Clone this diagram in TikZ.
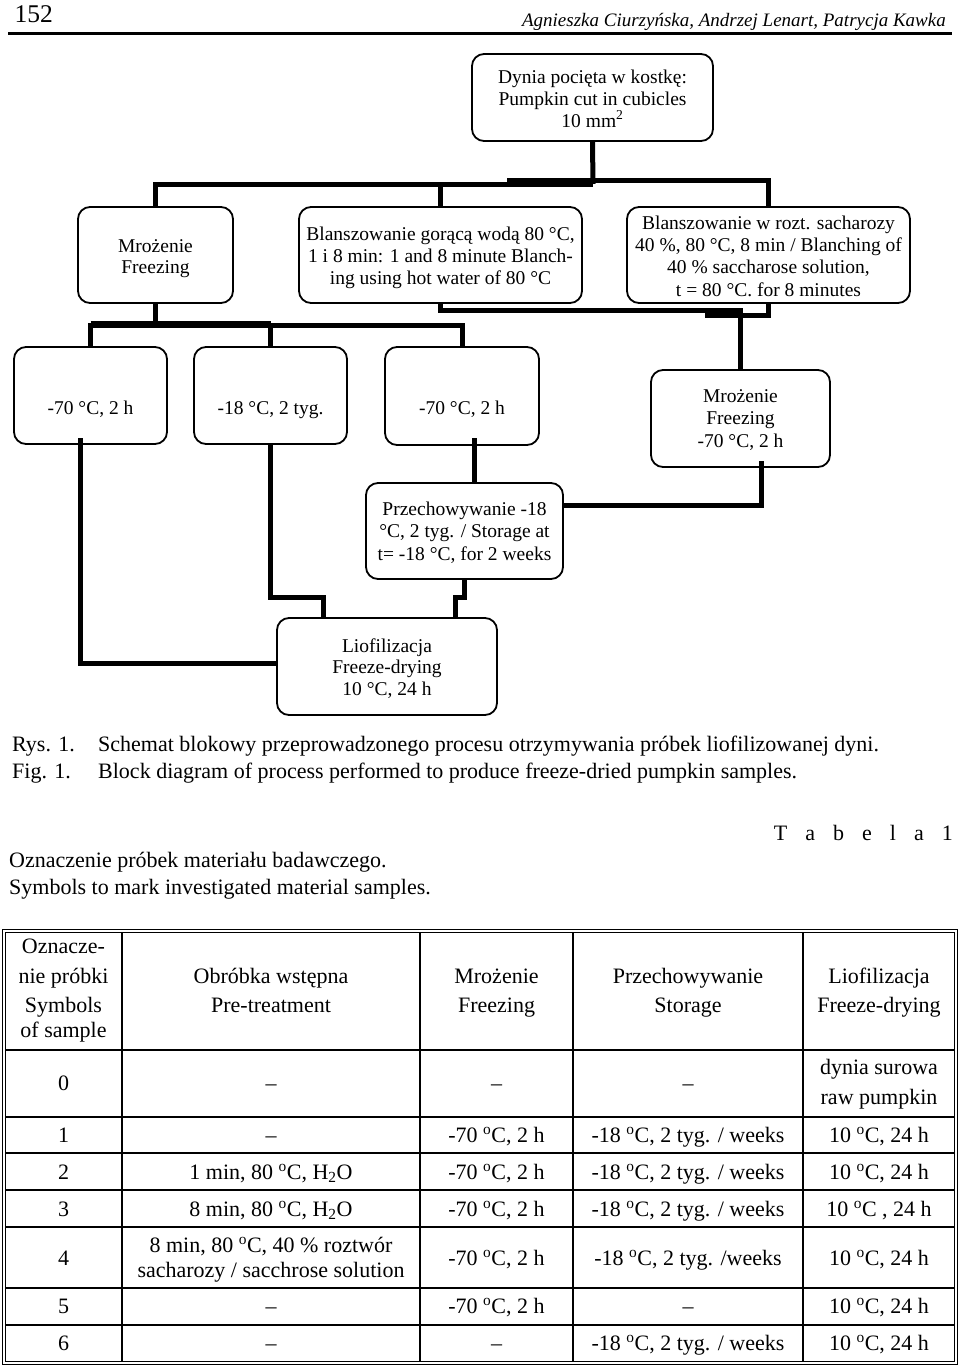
\documentclass[tikz,border=0pt]{standalone}
\usepackage{fontspec}
\setmainfont{Liberation Serif}
\usetikzlibrary{calc}
\begin{document}
\begin{tikzpicture}[x=1pt,y=-1pt,
  box/.style={draw, line width=1.8pt, rounded corners=12pt, inner sep=0pt},
  conn/.style={line width=5pt, line join=miter},
  dt/.style={anchor=base, inner sep=0pt, font=\fontsize{19.5}{22}\selectfont},
  captxt/.style={anchor=base west, inner sep=0pt, font=\fontsize{22}{26}\selectfont},
  tc/.style={anchor=base, inner sep=0pt, font=\fontsize{22}{26}\selectfont},
  tl/.style={line width=1.3pt}]
\fill[white] (0,0) rectangle (960,1365);
\useasboundingbox (0,0) rectangle (960,1365);

% ---------- page header ----------
\node[anchor=base west, inner sep=0pt, font=\fontsize{25.5}{28}\selectfont] (pg) at (14.5,22.7) {152};
\node[anchor=base east, inner sep=0pt, font=\fontsize{19}{22}\selectfont\itshape] (au) at (946,26) {Agnieszka Ciurzyńska, Andrzej Lenart, Patrycja Kawka};
\draw[line width=3.3pt] (8,33.4) -- (952,33.4);

% ---------- boxes ----------
\node[box, minimum width=241pt, minimum height=87pt] (top) at (592.5,97.5) {};
\node[box, minimum width=155pt, minimum height=96pt] (mro) at (155.5,255) {};
\node[box, minimum width=283pt, minimum height=96pt] (mid) at (440.5,255) {};
\node[box, minimum width=283pt, minimum height=96pt] (rbl) at (768.5,255) {};
\node[box, minimum width=153pt, minimum height=97pt] (bA) at (90.5,395.5) {};
\node[box, minimum width=153pt, minimum height=97pt] (bB) at (270.5,395.5) {};
\node[box, minimum width=154pt, minimum height=98pt] (bC) at (462,396) {};
\node[box, minimum width=179pt, minimum height=97pt] (bD) at (740.5,418.5) {};
\node[box, minimum width=197pt, minimum height=96pt] (prz) at (464.5,531) {};
\node[box, minimum width=220pt, minimum height=97pt] (lio) at (387,666.5) {};

% ---------- box texts ----------
\node[dt] (t1) at (592.5,83) {Dynia pocięta w kostkę:};
\node[dt] (t2) at (592.5,105) {Pumpkin cut in cubicles};
\node[dt] (t3) at (592.5,127) {10 mm\textsuperscript{2}};

\node[dt] (m1) at (155.5,252) {Mrożenie};
\node[dt] (m2) at (155.5,273) {Freezing};

\node[dt] (w1) at (440.5,240) {Blanszowanie gorącą wodą 80 °C,};
\node[dt] (w2) at (440.5,262) {1 i 8 min: 1 and 8 minute Blanch-};
\node[dt] (w3) at (440.5,284) {ing using hot water of 80 °C};

\node[dt] (r1) at (768.5,229) {Blanszowanie w rozt. sacharozy};
\node[dt] (r2) at (768.5,251) {40 \%, 80 °C, 8 min / Blanching of};
\node[dt] (r3) at (768.5,273.5) {40 \% saccharose solution,};
\node[dt] (r4) at (768.5,296) {t = 80 °C. for 8 minutes};

\node[dt] (a1t) at (90.5,414) {-70 °C, 2 h};
\node[dt] (b1t) at (270.5,414) {-18 °C, 2 tyg.};
\node[dt] (c1t) at (462,414) {-70 °C, 2 h};

\node[dt] (d1t) at (740.5,402) {Mrożenie};
\node[dt] (d2t) at (740.5,424) {Freezing};
\node[dt] (d3t) at (740.5,447) {-70 °C, 2 h};

\node[dt] (p1) at (464.5,515) {Przechowywanie -18};
\node[dt] (p2t) at (464.5,537) {°C, 2 tyg. / Storage at};
\node[dt] (p3) at (464.5,560) {t= -18 °C, for 2 weeks};

\node[dt] (l1) at (387,652) {Liofilizacja};
\node[dt] (l2) at (387,673) {Freeze-drying};
\node[dt] (l3) at (387,695) {10 °C, 24 h};

% ---------- connectors ----------
\coordinate (jt) at (593,184);
\coordinate (jr) at (507,180.5);
\draw[conn] (top.south) -- (jt);
\draw[conn] (mro.north) |- (jt);
\draw[conn] (mid.north) -- (mid.north |- jt);
\draw[conn] (rbl.north) |- (jr);

\coordinate (jm) at (740.5,310.5);
\coordinate (jr2) at (705,315.5);
\draw[conn] (mid.south) |- (jm) -- (bD.north);
\draw[conn] (rbl.south) |- (jr2);

\coordinate (jb) at (155.5,325);
\coordinate (jb2) at (271,323.5);
\draw[conn] (mro.south) -- (jb);
\draw[conn] (bA.north) -- (bA.north |- jb) -- (bC.north |- jb) -- (bC.north);
\draw[conn] (bB.north) -- (bB.north |- jb);
\draw[conn] (bA.north |- jb2) -- (jb2);

\coordinate (a1) at (80,438);
\draw[conn] (a1) |- ($(lio.west)+(0,-3.5)$);
\coordinate (b2) at (323,597);
\draw[conn] (bB.south) |- (b2) -- (b2 |- lio.north);
\coordinate (c1) at (474,438);
\draw[conn] (c1) -- (c1 |- prz.north);
\coordinate (d1) at (761,461);
\draw[conn] (d1) |- ($(prz.east)+(0,-26)$);
\coordinate (p2) at (455,597);
\draw[conn] (prz.south) |- (p2) -- (p2 |- lio.north);

% ---------- captions ----------
\node[captxt] (rys) at (12,751) {Rys. 1.};
\node[captxt] (sch) at (98,751) {Schemat blokowy przeprowadzonego procesu otrzymywania próbek liofilizowanej dyni.};
\node[captxt] (fig) at (12,778) {Fig. 1.};
\node[captxt] (blk) at (98,778) {Block diagram of process performed to produce freeze-dried pumpkin samples.};
\node[anchor=base east, inner sep=0pt, font=\fontsize{22}{26}\selectfont] (tab) at (953,840) {T\hspace{18pt}a\hspace{18pt}b\hspace{18pt}e\hspace{18pt}l\hspace{18pt}a\hspace{18pt}1};
\node[captxt] (ozn) at (9,867) {Oznaczenie próbek materiału badawczego.};
\node[captxt] (sym) at (9,894) {Symbols to mark investigated material samples.};

% ---------- table ----------
\draw[line width=1pt] (2.5,929) rectangle (957.5,1364);
\draw[line width=1pt] (5.5,932) rectangle (954.5,1361);
\foreach \yy in {1050,1117,1153,1190,1227,1288,1325} {
  \draw[tl] (5.5,\yy) -- (954.5,\yy);
}
\foreach \xx in {122,420,573,803} {
  \draw[tl] (\xx,932) -- (\xx,1361);
}

% header
\node[tc] (h11) at (63.5,953.5) {Oznacze-};
\node[tc] (h12) at (63.5,983.5) {nie próbki};
\node[tc] (h13) at (63.5,1012.5) {Symbols};
\node[tc] (h14) at (63.5,1037.5) {of sample};
\node[tc] (h21) at (271,983.5) {Obróbka wstępna};
\node[tc] (h22) at (271,1012.5) {Pre-treatment};
\node[tc] (h31) at (496.5,983.5) {Mrożenie};
\node[tc] (h32) at (496.5,1012.5) {Freezing};
\node[tc] (h41) at (688,983.5) {Przechowywanie};
\node[tc] (h42) at (688,1012.5) {Storage};
\node[tc] (h51) at (879,983.5) {Liofilizacja};
\node[tc] (h52) at (879,1012.5) {Freeze-drying};

% row 0
\node[tc] (r0a) at (63.5,1090) {0};
\node[tc] (r0b) at (271,1090) {–};
\node[tc] (r0c) at (496.5,1090) {–};
\node[tc] (r0d) at (688,1090) {–};
\node[tc] (r0e) at (879,1074.5) {dynia surowa};
\node[tc] (r0f) at (879,1104.5) {raw pumpkin};

% row 1
\node[tc] (r1a) at (63.5,1142.5) {1};
\node[tc] (r1b) at (271,1142.5) {–};
\node[tc] (r1c) at (496.5,1142.5) {-70 \textsuperscript{o}C, 2 h};
\node[tc] (r1d) at (688,1142.5) {-18 \textsuperscript{o}C, 2 tyg. / weeks};
\node[tc] (r1e) at (879,1142.5) {10 \textsuperscript{o}C, 24 h};

% row 2
\node[tc] (r2a) at (63.5,1179) {2};
\node[tc] (r2b) at (271,1179) {1 min, 80 \textsuperscript{o}C, H\textsubscript{2}O};
\node[tc] (r2c) at (496.5,1179) {-70 \textsuperscript{o}C, 2 h};
\node[tc] (r2d) at (688,1179) {-18 \textsuperscript{o}C, 2 tyg. / weeks};
\node[tc] (r2e) at (879,1179) {10 \textsuperscript{o}C, 24 h};

% row 3
\node[tc] (r3a) at (63.5,1216) {3};
\node[tc] (r3b) at (271,1216) {8 min, 80 \textsuperscript{o}C, H\textsubscript{2}O};
\node[tc] (r3c) at (496.5,1216) {-70 \textsuperscript{o}C, 2 h};
\node[tc] (r3d) at (688,1216) {-18 \textsuperscript{o}C, 2 tyg. / weeks};
\node[tc] (r3e) at (879,1216) {10 \textsuperscript{o}C , 24 h};

% row 4
\node[tc] (r4a) at (63.5,1265) {4};
\node[tc] (r4b) at (271,1252) {8 min, 80 \textsuperscript{o}C, 40 \% roztwór};
\node[tc] (r4b2) at (271,1277) {sacharozy / sacchrose solution};
\node[tc] (r4c) at (496.5,1265) {-70 \textsuperscript{o}C, 2 h};
\node[tc] (r4d) at (688,1265) {-18 \textsuperscript{o}C, 2 tyg. /weeks};
\node[tc] (r4e) at (879,1265) {10 \textsuperscript{o}C, 24 h};

% row 5
\node[tc] (r5a) at (63.5,1313.5) {5};
\node[tc] (r5b) at (271,1313.5) {–};
\node[tc] (r5c) at (496.5,1313.5) {-70 \textsuperscript{o}C, 2 h};
\node[tc] (r5d) at (688,1313.5) {–};
\node[tc] (r5e) at (879,1313.5) {10 \textsuperscript{o}C, 24 h};

% row 6
\node[tc] (r6a) at (63.5,1350.5) {6};
\node[tc] (r6b) at (271,1350.5) {–};
\node[tc] (r6c) at (496.5,1350.5) {–};
\node[tc] (r6d) at (688,1350.5) {-18 \textsuperscript{o}C, 2 tyg. / weeks};
\node[tc] (r6e) at (879,1350.5) {10 \textsuperscript{o}C, 24 h};
\end{tikzpicture}
\end{document}
